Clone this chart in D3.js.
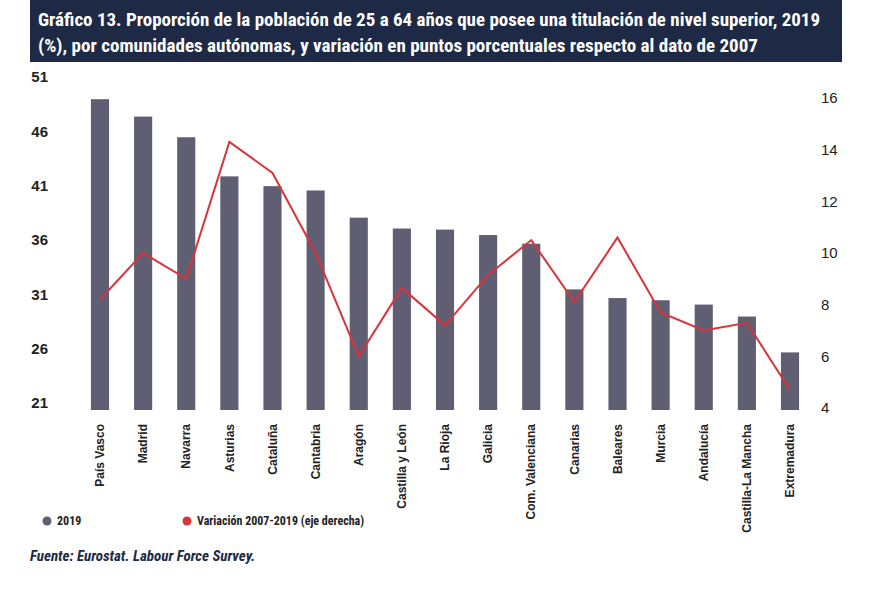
<!DOCTYPE html>
<html><head><meta charset="utf-8">
<script src="https://cdn.jsdelivr.net/npm/d3@7"></script>
<style>body{margin:0;background:#fff}</style>
</head><body><div id="chart"></div>
<script>
let regions = ["País Vasco","Madrid","Navarra","Asturias","Cataluña","Cantabria","Aragón","Castilla y León","La Rioja","Galicia","Com. Valenciana","Canarias","Baleares","Murcia","Andalucía","Castilla-La Mancha","Extremadura"];
let values2019 = [49.6,48.0,46.1,42.5,41.6,41.2,38.7,37.7,37.6,37.1,36.3,32.1,31.3,31.1,30.7,29.6,26.3];
let variation = [8.2,10.0,9.0,14.3,13.1,10.0,6.0,8.65,7.2,9.15,10.5,8.1,10.6,7.7,7.0,7.3,4.7];
let leftTicks = [21,26,31,36,41,46,51];
let rightTicks = [4,6,8,10,12,14,16];

let svg = d3.select("#chart").append("svg").attr("width",880).attr("height",594)
  .style("font-family","'Liberation Sans Narrow','Roboto Condensed',Arial,sans-serif");

svg.append("rect").attr("x",30).attr("y",0).attr("width",812).attr("height",62).attr("fill","#1e2a45");
svg.append("text").attr("x",38).attr("y",26).attr("fill","#fff").attr("font-size",18.5).attr("font-weight","bold")
  .attr("textLength",782).attr("lengthAdjust","spacingAndGlyphs")
  .text("Gráfico 13. Proporción de la población de 25 a 64 años que posee una titulación de nivel superior, 2019");
svg.append("text").attr("x",38).attr("y",52).attr("fill","#fff").attr("font-size",18.5).attr("font-weight","bold")
  .attr("textLength",720).attr("lengthAdjust","spacingAndGlyphs")
  .text("(%), por comunidades autónomas, y variación en puntos porcentuales respecto al dato de 2007");

let x = d3.scaleBand().domain(regions).range([78,812]).paddingInner(0.58).paddingOuter(0.3);
let yL = d3.scaleLinear().domain([21,51]).range([410,84]);
let yR = d3.scaleLinear().domain([4,16]).range([408,98]);

svg.selectAll("rect.bar").data(regions).join("rect").attr("class","bar")
  .attr("x",d=>x(d)).attr("width",x.bandwidth())
  .attr("y",(d,i)=>yL(values2019[i])).attr("height",(d,i)=>yL(21)-yL(values2019[i]))
  .attr("fill","#5f5e73");

let line = d3.line().x((d,i)=>x(regions[i])+x.bandwidth()/2).y(d=>yR(d));
svg.append("path").datum(variation).attr("d",line).attr("fill","none").attr("stroke","#d8343a").attr("stroke-width",2);

let axL = svg.append("g").attr("transform","translate(60,0)")
  .call(d3.axisLeft(yL).tickValues(leftTicks).tickSize(0).tickPadding(0));
axL.select(".domain").remove();
axL.selectAll("text").attr("font-size",15).attr("font-weight","bold").attr("fill","#222").attr("x",-12).attr("dy","-0.15em");

let axR = svg.append("g").attr("transform","translate(815,0)")
  .call(d3.axisRight(yR).tickValues(rightTicks).tickSize(0).tickPadding(6));
axR.select(".domain").remove();
axR.selectAll("text").attr("font-size",15).attr("fill","#222");

let axB = svg.append("g").attr("transform","translate(0,416)")
  .call(d3.axisBottom(x).tickSize(0));
axB.select(".domain").remove();
axB.selectAll("text").attr("font-size",12).attr("font-weight","bold").attr("fill","#222")
  .attr("transform","rotate(-90)").attr("text-anchor","end").attr("x",-8).attr("y",0).attr("dy","0.35em");

let lg = svg.append("g");
lg.append("circle").attr("cx",47).attr("cy",521).attr("r",4.5).attr("fill","#5f5e73");
lg.append("text").attr("x",57).attr("y",525).attr("font-size",12).attr("font-weight","bold").attr("fill","#222").text("2019");
lg.append("circle").attr("cx",187).attr("cy",521).attr("r",4.5).attr("fill","#d8343a");
lg.append("text").attr("x",197).attr("y",525).attr("font-size",12).attr("font-weight","bold").attr("fill","#222").text("Variación 2007-2019 (eje derecha)");

svg.append("text").attr("x",30).attr("y",561).attr("font-size",15).attr("font-weight","bold").attr("font-style","italic")
  .attr("fill","#1e2a45").text("Fuente: Eurostat. Labour Force Survey.");
</script></body></html>
